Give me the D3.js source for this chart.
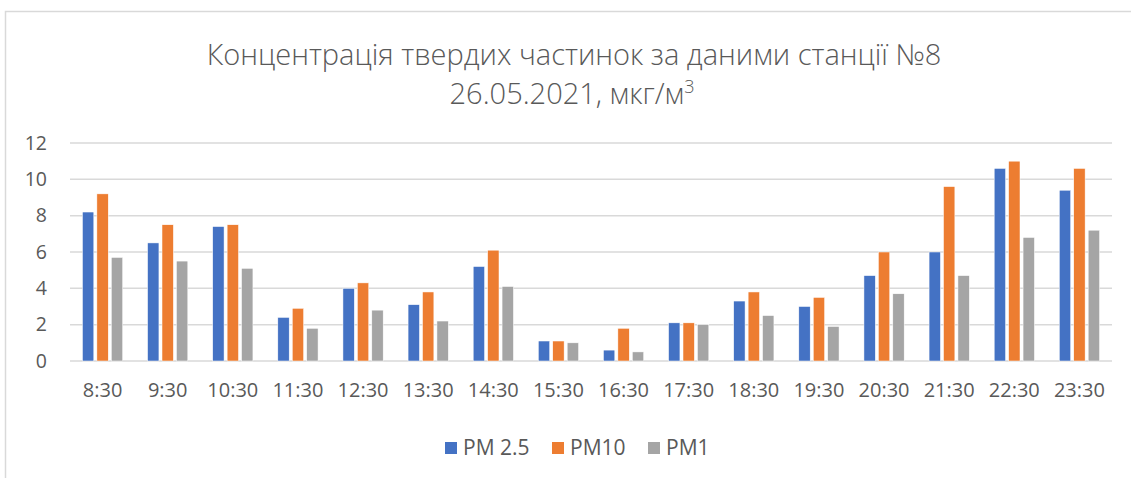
<!DOCTYPE html>
<html>
<head>
<meta charset="utf-8">
<script src="https://cdn.jsdelivr.net/npm/d3@7"></script>
<style>
  body { margin: 0; background: #fff; }
  svg { display: block; font-family: "Open Sans", sans-serif; }
</style>
</head>
<body>
<svg id="chart"></svg>
<script>
const categories = ["8:30", "9:30", "10:30", "11:30", "12:30", "13:30", "14:30", "15:30",
  "16:30", "17:30", "18:30", "19:30", "20:30", "21:30", "22:30", "23:30"];
const seriesNames = ["PM 2.5", "PM10", "PM1"];
const pm25 = [8.2, 6.5, 7.4, 2.4, 4.0, 3.1, 5.2, 1.1, 0.6, 2.1, 3.3, 3.0, 4.7, 6.0, 10.6, 9.4];
const pm10 = [9.2, 7.5, 7.5, 2.9, 4.3, 3.8, 6.1, 1.1, 1.8, 2.1, 3.8, 3.5, 6.0, 9.6, 11.0, 10.6];
const pm1 = [5.7, 5.5, 5.1, 1.8, 2.8, 2.2, 4.1, 1.0, 0.5, 2.0, 2.5, 1.9, 3.7, 4.7, 6.8, 7.2];
const yTicks = [0, 2, 4, 6, 8, 10, 12];
const colors = ["#4472C4", "#ED7D31", "#A5A5A5"];

const width = 1131, height = 478;
const textColor = "#595959";

const svg = d3.select("#chart").attr("width", width).attr("height", height);

// chart area border (only left and top are visible)
svg.append("path")
  .attr("d", `M5.5,${height} V11.5 H${width}`)
  .attr("fill", "none")
  .attr("stroke", "#d9d9d9")
  .attr("stroke-width", 1.5);

// title
const title = svg.append("text")
  .attr("text-anchor", "middle")
  .attr("fill", textColor)
  .style("font-size", "29px")
  .style("font-weight", 300);
title.append("tspan").attr("x", 574).attr("y", 65)
  .text("Концентрація твердих частинок за даними станції №8");
const t2 = title.append("tspan").attr("x", 572).attr("y", 104);
t2.append("tspan").text("26.05.2021, мкг/м");
t2.append("tspan").attr("dy", -11).style("font-size", "18px").text("3");

const plot = { left: 70, right: 1112, top: 143, bottom: 361 };

const x0 = d3.scaleBand()
  .domain(categories)
  .range([plot.left, plot.right])
  .padding(0);

// Excel-style: gap width 219%, overlap -27%
const barW = x0.bandwidth() / 5.73;
const groupW = barW * 3.54;
const x1 = d3.scaleBand()
  .domain(seriesNames)
  .range([0, groupW])
  .paddingInner(0.27 / 1.27)
  .paddingOuter(0);

const y = d3.scaleLinear()
  .domain([0, 12])
  .range([plot.bottom, plot.top]);

// gridlines
svg.append("g")
  .selectAll("line")
  .data(yTicks)
  .join("line")
  .attr("x1", plot.left)
  .attr("x2", plot.right)
  .attr("y1", d => y(d))
  .attr("y2", d => y(d))
  .attr("stroke", "#d9d9d9")
  .attr("stroke-width", 1.5);

// y axis labels
const yAxis = svg.append("g")
  .attr("transform", `translate(47,0)`)
  .call(d3.axisLeft(y).tickValues(yTicks).tickSize(0).tickPadding(0));
yAxis.select(".domain").remove();
yAxis.selectAll("text")
  .attr("fill", textColor)
  .style("font-size", "19.5px")
  .style("font-family", "'Open Sans', sans-serif");

// x axis labels
const xAxis = svg.append("g")
  .attr("transform", `translate(0,${plot.bottom})`)
  .call(d3.axisBottom(x0).tickSize(0).tickPadding(22));
xAxis.select(".domain").remove();
xAxis.selectAll("text")
  .attr("fill", textColor)
  .style("font-size", "20px")
  .style("font-family", "'Open Sans', sans-serif");

// bars
const series = [pm25, pm10, pm1];
const rows = categories.map((c, i) => ({ cat: c, vals: seriesNames.map((s, k) => ({ s, k, v: series[k][i] })) }));

svg.append("g")
  .selectAll("g")
  .data(rows)
  .join("g")
  .attr("transform", d => `translate(${x0(d.cat) + x0.bandwidth() / 2 - groupW / 2},0)`)
  .selectAll("rect")
  .data(d => d.vals)
  .join("rect")
  .attr("x", d => x1(d.s))
  .attr("y", d => y(d.v))
  .attr("width", x1.bandwidth())
  .attr("height", d => y(0) - y(d.v))
  .attr("fill", d => colors[d.k])
  .attr("stroke", "#fff")
  .attr("stroke-width", 0.5);

// legend
const legendX = [445, 552, 648];
const legend = svg.append("g")
  .selectAll("g")
  .data(seriesNames)
  .join("g")
  .attr("transform", (d, i) => `translate(${legendX[i]},442)`);
legend.append("rect")
  .attr("width", 12)
  .attr("height", 12)
  .attr("fill", (d, i) => colors[i]);
legend.append("text")
  .attr("x", 18)
  .attr("y", 13)
  .attr("fill", textColor)
  .style("font-size", "21px")
  .text(d => d);
</script>
</body>
</html>
